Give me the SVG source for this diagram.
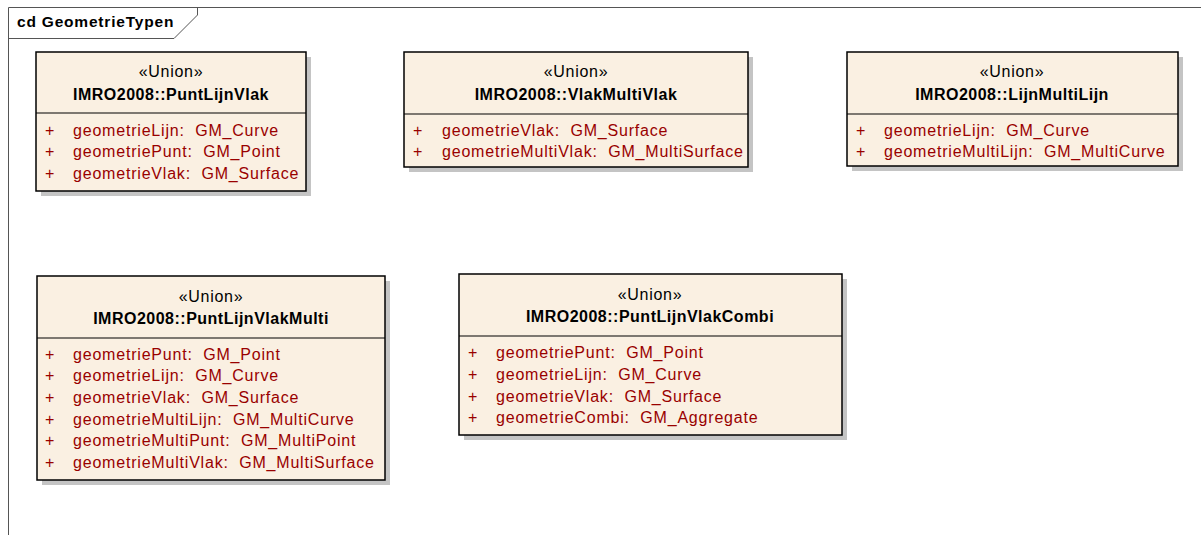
<svg xmlns="http://www.w3.org/2000/svg" width="1201" height="535" viewBox="0 0 1201 535">
<style>
.frame{fill:none;stroke:#555;stroke-width:1}
.box{fill:#FAF0E2;stroke:#000;stroke-width:1.5}
.shadow{fill:#C4C4C4}
.div{stroke:#000;stroke-width:1.2}
text{font-family:"Liberation Sans",Arial,sans-serif;font-size:16px;letter-spacing:0.7px}
.st{text-anchor:middle;fill:#000}
.nm{text-anchor:middle;font-weight:bold;fill:#000;letter-spacing:0.5px}
.at{fill:#990000;letter-spacing:0.8px;white-space:pre}
.title{font-weight:bold;font-size:15.5px;fill:#000;letter-spacing:0.8px}
</style>
<rect width="1201" height="535" fill="#fff"/>
<g id="frame">
<path class="frame" d="M8.5,535 V7.5 H1201"/>
<path class="frame" d="M8.5,38.5 H174 L197.5,15 V7.5"/>
<text class="title" x="17" y="27">cd GeometrieTypen</text>
</g>
<g id="PuntLijnVlak">
<rect class="shadow" x="41" y="57" width="270" height="139"/>
<rect class="box" x="36" y="52" width="270" height="139"/>
<line class="div" x1="36" y1="113" x2="306" y2="113"/>
<text class="st" x="171" y="77">«Union»</text>
<text class="nm" x="171" y="100">IMRO2008::PuntLijnVlak</text>
<text class="at" x="45" y="136">+</text><text class="at" x="73" y="136">geometrieLijn:  GM_Curve</text>
<text class="at" x="45" y="157">+</text><text class="at" x="73" y="157">geometriePunt:  GM_Point</text>
<text class="at" x="45" y="179">+</text><text class="at" x="73" y="179">geometrieVlak:  GM_Surface</text>
</g>
<g id="VlakMultiVlak">
<rect class="shadow" x="409" y="57" width="344" height="115"/>
<rect class="box" x="404" y="52" width="344" height="115"/>
<line class="div" x1="404" y1="114" x2="748" y2="114"/>
<text class="st" x="576" y="77">«Union»</text>
<text class="nm" x="576" y="100">IMRO2008::VlakMultiVlak</text>
<text class="at" x="413" y="136">+</text><text class="at" x="442" y="136">geometrieVlak:  GM_Surface</text>
<text class="at" x="413" y="157">+</text><text class="at" x="442" y="157">geometrieMultiVlak:  GM_MultiSurface</text>
</g>
<g id="LijnMultiLijn">
<rect class="shadow" x="852" y="57" width="331" height="114"/>
<rect class="box" x="847" y="52" width="331" height="114"/>
<line class="div" x1="847" y1="114" x2="1178" y2="114"/>
<text class="st" x="1012" y="77">«Union»</text>
<text class="nm" x="1012" y="100">IMRO2008::LijnMultiLijn</text>
<text class="at" x="856" y="136">+</text><text class="at" x="884" y="136">geometrieLijn:  GM_Curve</text>
<text class="at" x="856" y="157">+</text><text class="at" x="884" y="157">geometrieMultiLijn:  GM_MultiCurve</text>
</g>
<g id="PuntLijnVlakMulti">
<rect class="shadow" x="42" y="281" width="348" height="204"/>
<rect class="box" x="37" y="276" width="348" height="204"/>
<line class="div" x1="37" y1="338" x2="385" y2="338"/>
<text class="st" x="211" y="302">«Union»</text>
<text class="nm" x="211" y="324">IMRO2008::PuntLijnVlakMulti</text>
<text class="at" x="45" y="360">+</text><text class="at" x="73" y="360">geometriePunt:  GM_Point</text>
<text class="at" x="45" y="381">+</text><text class="at" x="73" y="381">geometrieLijn:  GM_Curve</text>
<text class="at" x="45" y="403">+</text><text class="at" x="73" y="403">geometrieVlak:  GM_Surface</text>
<text class="at" x="45" y="425">+</text><text class="at" x="73" y="425">geometrieMultiLijn:  GM_MultiCurve</text>
<text class="at" x="45" y="446">+</text><text class="at" x="73" y="446">geometrieMultiPunt:  GM_MultiPoint</text>
<text class="at" x="45" y="468">+</text><text class="at" x="73" y="468">geometrieMultiVlak:  GM_MultiSurface</text>
</g>
<g id="PuntLijnVlakCombi">
<rect class="shadow" x="464" y="279" width="383" height="161"/>
<rect class="box" x="459" y="274" width="383" height="161"/>
<line class="div" x1="459" y1="336" x2="842" y2="336"/>
<text class="st" x="650" y="300">«Union»</text>
<text class="nm" x="650" y="322">IMRO2008::PuntLijnVlakCombi</text>
<text class="at" x="468" y="358">+</text><text class="at" x="496" y="358">geometriePunt:  GM_Point</text>
<text class="at" x="468" y="380">+</text><text class="at" x="496" y="380">geometrieLijn:  GM_Curve</text>
<text class="at" x="468" y="402">+</text><text class="at" x="496" y="402">geometrieVlak:  GM_Surface</text>
<text class="at" x="468" y="423">+</text><text class="at" x="496" y="423">geometrieCombi:  GM_Aggregate</text>
</g>
<g id="connectors"></g>
</svg>
